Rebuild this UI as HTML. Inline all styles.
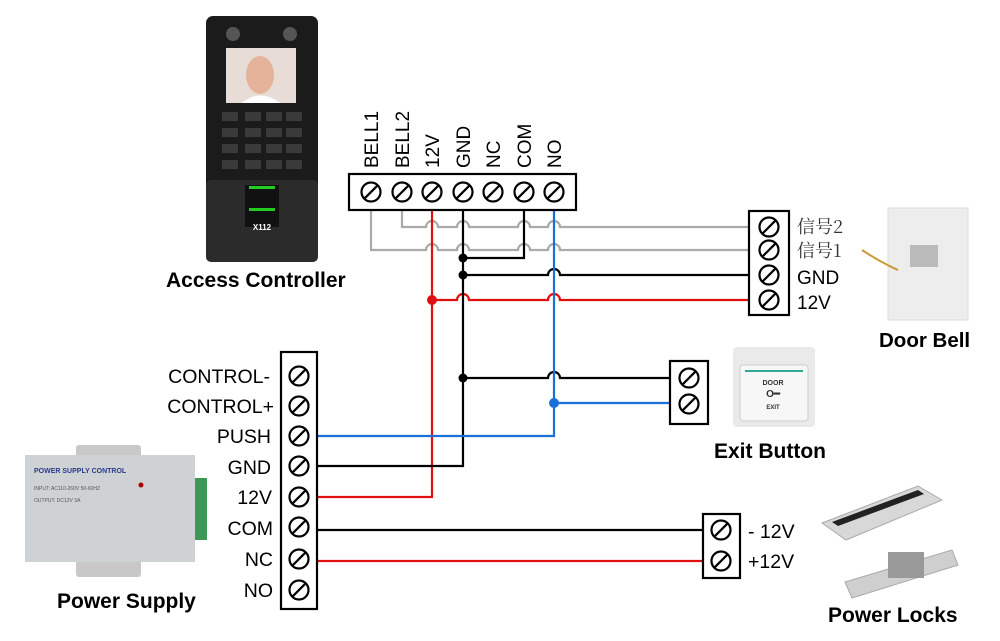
<!DOCTYPE html>
<html><head><meta charset="utf-8"><style>
html,body{margin:0;padding:0;background:#fff;}
svg{display:block;font-family:"Liberation Sans",Arial,sans-serif;}
</style></head><body>
<svg width="1000" height="641" viewBox="0 0 1000 641" xmlns="http://www.w3.org/2000/svg">
<defs>
<g id="t"><circle r="9.5" fill="#fff" stroke="#000" stroke-width="2.2"/><line x1="-6.8" y1="6.8" x2="6.8" y2="-6.8" stroke="#000" stroke-width="2.2"/></g>
</defs>

<!-- Access controller -->
<rect x="206" y="16" width="112" height="246" rx="7" fill="#1b1b1b"/>
<rect x="206" y="180" width="112" height="82" rx="5" fill="#2b2b2b"/>
<circle cx="233" cy="34" r="7" fill="#555"/><circle cx="290" cy="34" r="7" fill="#555"/>
<rect x="226" y="48" width="70" height="55" fill="#e8ddd6"/>
<ellipse cx="260" cy="75" rx="14" ry="19" fill="#e4b39a"/>
<path d="M242 103 Q260 88 280 103Z" fill="#fff"/>
<g fill="#3a3a3a">
<rect x="222" y="112" width="16" height="9"/><rect x="245" y="112" width="16" height="9"/><rect x="266" y="112" width="16" height="9"/><rect x="286" y="112" width="16" height="9"/>
<rect x="222" y="128" width="16" height="9"/><rect x="245" y="128" width="16" height="9"/><rect x="266" y="128" width="16" height="9"/><rect x="286" y="128" width="16" height="9"/>
<rect x="222" y="144" width="16" height="9"/><rect x="245" y="144" width="16" height="9"/><rect x="266" y="144" width="16" height="9"/><rect x="286" y="144" width="16" height="9"/>
<rect x="222" y="160" width="16" height="9"/><rect x="245" y="160" width="16" height="9"/><rect x="266" y="160" width="16" height="9"/><rect x="286" y="160" width="16" height="9"/>
</g>
<rect x="245" y="185" width="34" height="42" fill="#111"/>
<rect x="249" y="186" width="26" height="3" fill="#2c2"/><rect x="249" y="208" width="26" height="3" fill="#2c2"/>
<text x="262" y="230" font-size="8" font-weight="bold" fill="#fff" text-anchor="middle">X112</text>
<text x="166" y="287" font-size="21" font-weight="bold">Access Controller</text>

<!-- top terminal labels -->
<g font-size="19" fill="#000">
<text transform="translate(378,168) rotate(-90)">BELL1</text>
<text transform="translate(409,168) rotate(-90)">BELL2</text>
<text transform="translate(439,168) rotate(-90)">12V</text>
<text transform="translate(470,168) rotate(-90)">GND</text>
<text transform="translate(500,168) rotate(-90)">NC</text>
<text transform="translate(531,168) rotate(-90)">COM</text>
<text transform="translate(561,168) rotate(-90)">NO</text>
</g>

<!-- wires -->
<g fill="none" stroke-width="2.2">
<path d="M371 210 V250 H426 a6 6 0 0 1 12 0 H457 a6 6 0 0 1 12 0 H518 a6 6 0 0 1 12 0 H548 a6 6 0 0 1 12 0 H750" stroke="#aaa"/>
<path d="M402 210 V227 H426 a6 6 0 0 1 12 0 H457 a6 6 0 0 1 12 0 H518 a6 6 0 0 1 12 0 H548 a6 6 0 0 1 12 0 H750" stroke="#aaa"/>
<path d="M524 210 V258 H463" stroke="#000"/>
<path d="M463 275 H548 a6 6 0 0 1 12 0 H750" stroke="#000"/>
<path d="M432 210 V497 H318" stroke="#e01010"/>
<path d="M432 300 H457 a6 6 0 0 1 12 0 H548 a6 6 0 0 1 12 0 H750" stroke="#e01010"/>
<path d="M463 210 V466 H318" stroke="#000"/>
<path d="M463 378 H548 a6 6 0 0 1 12 0 H670" stroke="#000"/>
<path d="M554 210 V436 H318" stroke="#1a6fd8"/>
<path d="M554 403 H670" stroke="#1a6fd8"/>
<path d="M318 530 H703" stroke="#000"/>
<path d="M318 561 H703" stroke="#e01010"/>
</g>
<circle cx="463" cy="258" r="4.5" fill="#000"/>
<circle cx="463" cy="275" r="4.5" fill="#000"/>
<circle cx="463" cy="378" r="4.5" fill="#000"/>
<circle cx="432" cy="300" r="5" fill="#e01010"/>
<circle cx="554" cy="403" r="5" fill="#1a6fd8"/>

<!-- top terminal block -->
<rect x="349" y="174" width="227" height="36" fill="#fff" stroke="#000" stroke-width="2.2"/>
<use href="#t" x="371" y="192"/><use href="#t" x="402" y="192"/><use href="#t" x="432" y="192"/><use href="#t" x="463" y="192"/><use href="#t" x="493" y="192"/><use href="#t" x="524" y="192"/><use href="#t" x="554" y="192"/>

<!-- bell block -->
<rect x="749" y="211" width="40" height="104" fill="#fff" stroke="#000" stroke-width="2.2"/>
<use href="#t" x="769" y="227"/><use href="#t" x="769" y="250"/><use href="#t" x="769" y="275"/><use href="#t" x="769" y="300"/>
<g font-size="19">
<text x="797" y="233" font-family="'Noto Serif CJK SC',serif" fill="#333" font-size="18">信号2</text>
<text x="797" y="257" font-family="'Noto Serif CJK SC',serif" fill="#333" font-size="18">信号1</text>
<text x="797" y="284">GND</text>
<text x="797" y="309">12V</text>
</g>
<rect x="888" y="208" width="80" height="112" fill="#ededed" stroke="#ddd"/>
<rect x="910" y="245" width="28" height="22" fill="#bbb"/>
<path d="M862 250 Q880 262 898 270" stroke="#c93" stroke-width="2" fill="none"/>
<text x="879" y="347" font-size="20.5" font-weight="bold">Door Bell</text>

<!-- exit block -->
<rect x="670" y="361" width="38" height="63" fill="#fff" stroke="#000" stroke-width="2.2"/>
<use href="#t" x="689" y="378"/><use href="#t" x="689" y="404"/>
<rect x="733" y="347" width="82" height="80" rx="4" fill="#eaeaea"/>
<rect x="740" y="365" width="68" height="56" rx="3" fill="#f7f7f7" stroke="#ccc"/>
<rect x="745" y="370" width="58" height="2" fill="#3a9"/>
<text x="773" y="385" font-size="7" font-weight="bold" text-anchor="middle" fill="#333">DOOR</text>
<text x="773" y="397" font-size="10" font-weight="bold" text-anchor="middle" fill="#333">O━</text>
<text x="773" y="409" font-size="6" font-weight="bold" text-anchor="middle" fill="#333">EXIT</text>
<text x="714" y="458" font-size="21" font-weight="bold">Exit Button</text>

<!-- lock block -->
<rect x="703" y="514" width="37" height="64" fill="#fff" stroke="#000" stroke-width="2.2"/>
<use href="#t" x="721" y="530"/><use href="#t" x="721" y="561"/>
<text x="748" y="538" font-size="19.5">- 12V</text>
<text x="748" y="568" font-size="19.5">+12V</text>
<path d="M822 523 L918 486 L942 500 L846 540 Z" fill="#d8d8d8" stroke="#aaa"/>
<path d="M832 522 L918 490 L924 494 L838 526Z" fill="#222"/>
<path d="M845 582 L952 550 L958 565 L852 598 Z" fill="#cfcfcf" stroke="#aaa"/>
<rect x="888" y="552" width="36" height="26" fill="#999"/>
<text x="828" y="622" font-size="21" font-weight="bold">Power Locks</text>

<!-- left block -->
<rect x="281" y="352" width="36" height="257" fill="#fff" stroke="#000" stroke-width="2.2"/>
<use href="#t" x="299" y="376"/><use href="#t" x="299" y="406"/><use href="#t" x="299" y="436"/><use href="#t" x="299" y="466"/><use href="#t" x="299" y="497"/><use href="#t" x="299" y="527"/><use href="#t" x="299" y="559"/><use href="#t" x="299" y="590"/>
<g font-size="19.5" text-anchor="end">
<text x="270" y="383">CONTROL-</text>
<text x="274" y="413">CONTROL+</text>
<text x="271" y="443">PUSH</text>
<text x="271" y="474">GND</text>
<text x="272" y="504">12V</text>
<text x="273" y="535">COM</text>
<text x="273" y="566">NC</text>
<text x="273" y="597">NO</text>
</g>

<!-- power supply img -->
<rect x="76" y="445" width="65" height="15" rx="3" fill="#c8c8c8"/>
<rect x="76" y="560" width="65" height="17" rx="3" fill="#c8c8c8"/>
<rect x="25" y="455" width="170" height="107" fill="#cfd2d4"/>
<rect x="195" y="478" width="12" height="62" fill="#3a9a55"/>
<text x="34" y="473" font-size="7" font-weight="bold" fill="#2a3a8a">POWER SUPPLY CONTROL</text>
<text x="34" y="490" font-size="5" fill="#555">INPUT: AC110-260V 50-60HZ</text>
<text x="34" y="502" font-size="5" fill="#555">OUTPUT: DC12V 3A</text>
<circle cx="141" cy="485" r="2.5" fill="#a00"/>
<text x="57" y="608" font-size="21" font-weight="bold">Power Supply</text>
</svg>
</body></html>
